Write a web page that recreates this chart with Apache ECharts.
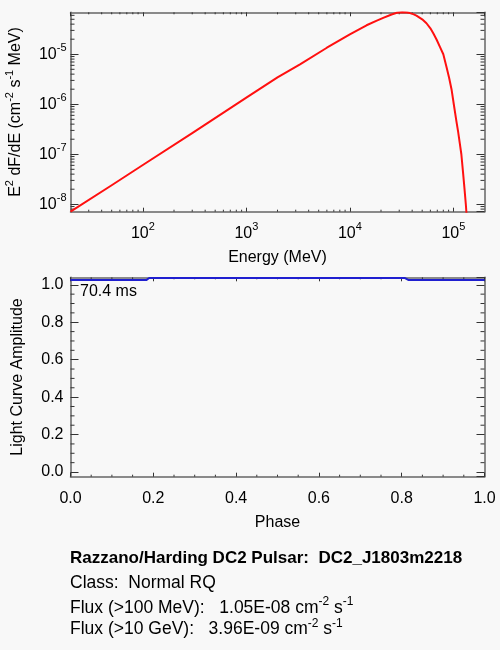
<!DOCTYPE html>
<html><head><meta charset="utf-8">
<script src="https://cdn.jsdelivr.net/npm/echarts@6/dist/echarts.min.js"></script>
<style>html,body{margin:0;padding:0;background:#f8f8f8}#c{width:500px;height:650px}</style>
</head><body><div id="c"></div>
<script>
// ---- Spectrum (top panel) ----
const energyMeV = [20, 50, 100, 300, 1000, 2000, 3300, 6000, 10000, 14500, 18000, 21000, 25300, 28500, 32000, 35500, 38000, 41000, 44000, 50000, 55000, 60000, 64000, 69000, 74000, 80000, 86000, 91000, 96000, 101000, 107000, 111000, 115000, 119500, 124000, 128000, 132000, 134000];
const e2dfde = [7.1e-9, 2.4e-8, 6.1e-8, 2.65e-7, 1.36e-6, 3.44e-6, 6.3e-6, 1.35e-5, 2.5e-5, 3.8e-5, 4.65e-5, 5.35e-5, 6.25e-5, 6.75e-5, 6.9e-5, 6.85e-5, 6.65e-5, 6.35e-5, 5.92e-5, 5.0e-5, 4.17e-5, 3.3e-5, 2.63e-5, 1.95e-5, 1.42e-5, 1.0e-5, 5.5e-6, 3.4e-6, 2.0e-6, 1.0e-6, 4.6e-7, 2.9e-7, 1.75e-7, 1.0e-7, 4.4e-8, 2.1e-8, 1.0e-8, 6.5e-9];
const energyMin = 20, energyMax = 2e5;
const sedMin = 7.1e-9, sedMax = 6.9e-5;
const energyMinorTicks = [30,40,50,60,70,80,90,200,300,400,500,600,700,800,900,2000,3000,4000,5000,6000,7000,8000,9000,20000,30000,40000,50000,60000,70000,80000,90000];
const sedMinorTicks = [8e-9,9e-9,2e-8,3e-8,4e-8,5e-8,6e-8,7e-8,8e-8,9e-8,2e-7,3e-7,4e-7,5e-7,6e-7,7e-7,8e-7,9e-7,2e-6,3e-6,4e-6,5e-6,6e-6,7e-6,8e-6,9e-6,2e-5,3e-5,4e-5,5e-5,6e-5];

// ---- Light curve (bottom panel) ----
const phase = [0, 0.183, 0.19, 0.808, 0.817, 1.0];
const amplitude = [1.025, 1.025, 1.036, 1.036, 1.025, 1.025];
const ampMin = -0.025, ampMax = 1.04;
const phaseMinorTicks = [0.05,0.1,0.15,0.25,0.3,0.35,0.45,0.5,0.55,0.65,0.7,0.75,0.85,0.9,0.95];
const ampMinorTicks = [0.05,0.1,0.15,0.25,0.3,0.35,0.45,0.5,0.55,0.65,0.7,0.75,0.85,0.9,0.95];
const periodText = '70.4 ms';

// ---- Info block ----
const infoTitle = 'Razzano/Harding DC2 Pulsar:  DC2_J1803m2218';
const infoClass = 'Class:  Normal RQ';
const flux100 = '1.05E-08';
const flux10g = '3.96E-09';

const FONT = '"Liberation Sans", Arial, Helvetica, sans-serif';
const supRich = {
  b: {fontSize: 16, fontFamily: FONT, color: '#000', lineHeight: 24},
  s: {fontSize: 11, fontFamily: FONT, color: '#000', lineHeight: 10, verticalAlign: 'top'}
};
const axisLineStyle = {color: '#666', width: 1.5};
const tickStyle = {color: '#333', width: 1};
const logLabel = v => '{b|10}{s|' + Math.round(Math.log10(v)) + '}';

function baseAxis(extra) {
  return Object.assign({
    axisLine: {show: true, onZero: false, lineStyle: axisLineStyle},
    splitLine: {show: false},
    nameTextStyle: {fontSize: 16, fontFamily: FONT, color: '#000'}
  }, extra);
}

function xMinorSeries(xi, yi, values, yRef, len) {
  return {type: 'custom', xAxisIndex: xi, yAxisIndex: yi, silent: true, z: 4,
    data: values.map(v => [v, yRef]),
    renderItem: (params, api) => {
      const cs = params.coordSys;
      const x = api.coord([api.value(0), api.value(1)])[0];
      const b = cs.y + cs.height;
      return {type: 'group', children: [
        {type: 'line', shape: {x1: x, y1: b, x2: x, y2: b - len}, style: {stroke: '#333', lineWidth: 1}},
        {type: 'line', shape: {x1: x, y1: cs.y, x2: x, y2: cs.y + len}, style: {stroke: '#333', lineWidth: 1}}
      ]};
    }};
}
function yMinorSeries(xi, yi, values, xRef, len) {
  return {type: 'custom', xAxisIndex: xi, yAxisIndex: yi, silent: true, z: 4,
    data: values.map(v => [xRef, v]),
    renderItem: (params, api) => {
      const cs = params.coordSys;
      const y = api.coord([api.value(0), api.value(1)])[1];
      const r = cs.x + cs.width;
      return {type: 'group', children: [
        {type: 'line', shape: {x1: cs.x, y1: y, x2: cs.x + len, y2: y}, style: {stroke: '#333', lineWidth: 1}},
        {type: 'line', shape: {x1: r, y1: y, x2: r - len, y2: y}, style: {stroke: '#333', lineWidth: 1}}
      ]};
    }};
}

const infoRich = {s: {fontSize: 12, fontFamily: FONT, fill: '#000', lineHeight: 10, verticalAlign: 'top'}};

const chart = echarts.init(document.getElementById('c'), null, {renderer: 'canvas'});
chart.setOption({
  backgroundColor: '#f8f8f8',
  animation: false,
  grid: [
    {left: 70.5, right: 15.5, top: 12.3, height: 199.4, outerBoundsMode: 'none', containLabel: false},
    {left: 70.5, right: 15.5, top: 277.3, height: 199.4, outerBoundsMode: 'none', containLabel: false}
  ],
  xAxis: [
    baseAxis({type: 'log', logBase: 10, gridIndex: 0, min: energyMin, max: energyMax,
      axisTick: {inside: true, length: 4, lineStyle: tickStyle},
      axisLabel: {formatter: logLabel, rich: supRich, margin: 10, showMinLabel: false, showMaxLabel: false},
      name: 'Energy (MeV)', nameLocation: 'middle', nameGap: 38}),
    baseAxis({type: 'log', logBase: 10, gridIndex: 0, position: 'top', min: energyMin, max: energyMax,
      axisTick: {inside: true, length: 4, lineStyle: tickStyle}, axisLabel: {show: false}}),
    baseAxis({type: 'value', gridIndex: 1, min: 0, max: 1, interval: 0.2,
      axisTick: {inside: true, length: 4, lineStyle: tickStyle},
      axisLabel: {formatter: v => v.toFixed(1), fontSize: 16, fontFamily: FONT, color: '#000', margin: 14},
      name: 'Phase', nameLocation: 'middle', nameGap: 38}),
    baseAxis({type: 'value', gridIndex: 1, position: 'top', min: 0, max: 1, interval: 0.2,
      axisTick: {inside: true, length: 4, lineStyle: tickStyle},
      axisLabel: {show: false}})
  ],
  yAxis: [
    baseAxis({type: 'log', logBase: 10, gridIndex: 0, min: sedMin, max: sedMax,
      axisTick: {inside: true, length: 8, lineStyle: tickStyle},
      axisLabel: {formatter: logLabel, rich: supRich, margin: 4, showMinLabel: false, showMaxLabel: false},
      name: 'E{s|2} dF/dE (cm{s|-2} s{s|-1} MeV)', nameLocation: 'middle', nameGap: 42,
      nameTextStyle: {fontSize: 16, fontFamily: FONT, color: '#000', lineHeight: 24, rich: {
        s: {fontSize: 11, fontFamily: FONT, color: '#000', lineHeight: 10, verticalAlign: 'top'}}}}),
    baseAxis({type: 'log', logBase: 10, gridIndex: 0, position: 'right', min: sedMin, max: sedMax,
      axisTick: {inside: true, length: 8, lineStyle: tickStyle}, axisLabel: {show: false}}),
    baseAxis({type: 'value', gridIndex: 1, min: ampMin, max: ampMax, splitNumber: 5,
      axisTick: {inside: true, length: 8, lineStyle: tickStyle},
      axisLabel: {formatter: v => v.toFixed(1), fontSize: 16, fontFamily: FONT, color: '#000', margin: 7,
        showMinLabel: false, showMaxLabel: false},
      name: 'Light Curve Amplitude', nameLocation: 'middle', nameGap: 45}),
    baseAxis({type: 'value', gridIndex: 1, position: 'right', min: ampMin, max: ampMax, splitNumber: 5,
      axisTick: {inside: true, length: 8, lineStyle: tickStyle},
      axisLabel: {show: false}})
  ],
  series: [
    {type: 'line', xAxisIndex: 0, yAxisIndex: 0, data: energyMeV.map((e, i) => [e, e2dfde[i]]),
      showSymbol: false, smooth: false, lineStyle: {color: '#ff1010', width: 2, join: 'round'}, clip: true, z: 5},
    {type: 'line', xAxisIndex: 2, yAxisIndex: 2, data: phase.map((p, i) => [p, amplitude[i]]),
      showSymbol: false, lineStyle: {color: '#1f1fd0', width: 2}, clip: false, z: 5},
    xMinorSeries(0, 0, energyMinorTicks, 1e-6, 2),
    yMinorSeries(0, 0, sedMinorTicks, 1000, 4),
    xMinorSeries(2, 2, phaseMinorTicks, 0.5, 2),
    yMinorSeries(2, 2, ampMinorTicks, 0.5, 4)
  ],
  graphic: [
    {type: 'text', left: 80, top: 283.7, style: {text: periodText, fontSize: 16, fontFamily: FONT, fill: '#000'}},
    {type: 'text', left: 70, top: 550, style: {text: infoTitle, fontSize: 17, fontWeight: 'bold', fontFamily: FONT, fill: '#000'}},
    {type: 'text', left: 70, top: 574, style: {text: infoClass, fontSize: 17.5, fontFamily: FONT, fill: '#000'}},
    {type: 'text', left: 70, top: 596, style: {text: 'Flux (>100 MeV):   ' + flux100 + ' cm{s|-2} s{s|-1}', fontSize: 17.5, fontFamily: FONT, fill: '#000', lineHeight: 24, rich: infoRich}},
    {type: 'text', left: 70, top: 617.5, style: {text: 'Flux (>10 GeV):   ' + flux10g + ' cm{s|-2} s{s|-1}', fontSize: 17.5, fontFamily: FONT, fill: '#000', lineHeight: 24, rich: infoRich}}
  ]
});
</script></body></html>
